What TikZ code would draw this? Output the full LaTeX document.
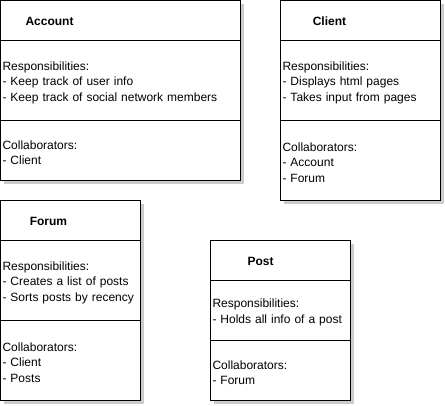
\documentclass[tikz,border=0pt]{standalone}
\usepackage{fontspec}
\setmainfont{Liberation Sans}
\newcommand\mytopstrut{\rule{0pt}{12.8pt}}
\tikzset{
  sec/.style={draw=black, line width=1pt, fill=white, rectangle, anchor=north west,
    inner xsep=2pt, inner ysep=0pt, outer sep=0pt, align=left, font=\fontsize{12}{15.5}\selectfont},
  shadowbox/.style={fill=black!20, draw=none},
  ttl/.style={font=\fontsize{12}{14}\selectfont\bfseries, inner sep=0pt},
}
\begin{document}
\begin{tikzpicture}[x=1pt,y=1pt]
\useasboundingbox (0,0) rectangle (445,-405);
% Account
\fill[shadowbox] (3.5,-3.5) rectangle (243.5,-183.5);
\node[sec, text width=236pt, minimum height=40pt] (acct) at (0.5,-0.5) {};
\node[sec, text width=236pt, minimum height=80pt] (accr) at (acct.south west) {\mytopstrut Responsibilities:\\- Keep track of user info\\- Keep track of social network members};
\node[sec, text width=236pt, minimum height=60pt] (accc) at (accr.south west) {\mytopstrut Collaborators:\\- Client};
\node[ttl] (acctl) at ([xshift=49pt,yshift=-0.5pt]acct.west) {Account};
% Client
\fill[shadowbox] (283.5,-3.5) rectangle (443.5,-203.5);
\node[sec, text width=156pt, minimum height=40pt] (clit) at (280.5,-0.5) {};
\node[sec, text width=156pt, minimum height=80pt] (clir) at (clit.south west) {\mytopstrut Responsibilities:\\- Displays html pages\\- Takes input from pages};
\node[sec, text width=156pt, minimum height=80pt] (clic) at (clir.south west) {\mytopstrut Collaborators:\\- Account\\- Forum};
\node[ttl] (clitl) at ([xshift=49pt,yshift=-0.5pt]clit.west) {Client};
% Forum
\fill[shadowbox] (3.5,-203.5) rectangle (143.5,-403.5);
\node[sec, text width=136pt, minimum height=40pt] (fort) at (0.5,-200.5) {};
\node[sec, text width=136pt, minimum height=80pt] (forr) at (fort.south west) {\mytopstrut Responsibilities:\\- Creates a list of posts\\- Sorts posts by recency};
\node[sec, text width=136pt, minimum height=80pt] (forc) at (forr.south west) {\mytopstrut Collaborators:\\- Client\\- Posts};
\node[ttl] (fortl) at ([xshift=48pt,yshift=-0.5pt]fort.west) {Forum};
% Post
\fill[shadowbox] (213.5,-243.5) rectangle (353.5,-403.5);
\node[sec, text width=136pt, minimum height=40pt] (post) at (210.5,-240.5) {};
\node[sec, text width=136pt, minimum height=60pt] (posr) at (post.south west) {\mytopstrut Responsibilities:\\- Holds all info of a post};
\node[sec, text width=136pt, minimum height=60pt] (posc) at (posr.south west) {\mytopstrut Collaborators:\\- Forum};
\node[ttl] (postl) at ([xshift=50pt,yshift=-0.5pt]post.west) {Post};
\end{tikzpicture}
\end{document}
